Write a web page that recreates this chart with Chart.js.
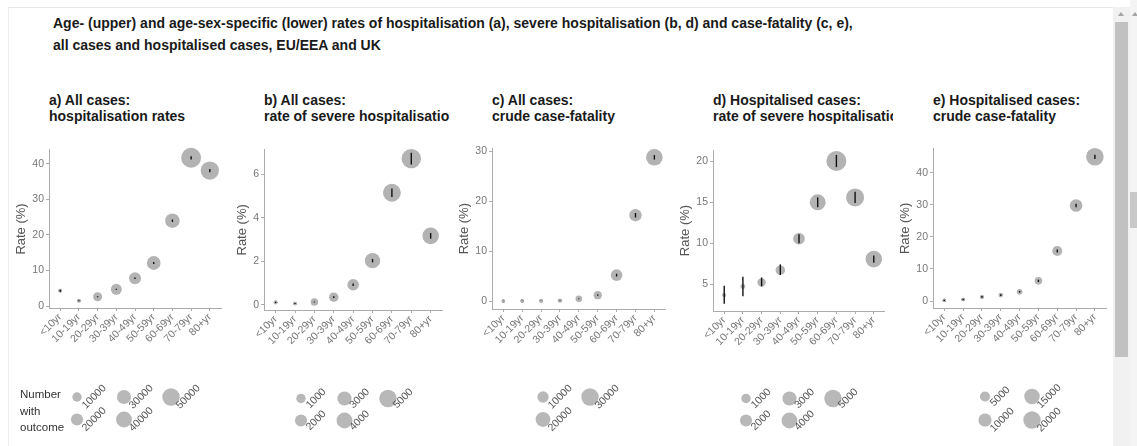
<!DOCTYPE html>
<html>
<head>
<meta charset="utf-8">
<script src="https://cdn.jsdelivr.net/npm/chart.js@4.4.1/dist/chart.umd.min.js"></script>
<style>
    body { margin: 0; background: #fff; font-family: "Liberation Sans", Arial, sans-serif; }
    #page { position: relative; width: 1137px; height: 446px; overflow: hidden; background: #fff; }
    .frame { position: absolute; left: 8px; top: 7px; width: 1105px; height: 439px; border-top: 1px solid #e6e6e6; border-left: 1px solid #ededed; }
    .main-title { position: absolute; left: 53px; top: 12px; font-size: 14px; font-weight: bold; line-height: 22px; color: #1a1a1a; white-space: nowrap; }
    .panel-title { position: absolute; top: 92px; font-size: 14px; font-weight: bold; line-height: 16px; color: #1a1a1a; white-space: nowrap; overflow: hidden; }
    .size-title { position: absolute; left: 20px; top: 386px; font-size: 11.5px; line-height: 16.5px; color: #333; }
    canvas { position: absolute; }
    .sb { position: absolute; }
</style>
</head>
<body>
<div id="page">
    <div class="frame"></div>
    <div class="main-title">Age- (upper) and age-sex-specific (lower) rates of hospitalisation (a), severe hospitalisation (b, d) and case-fatality (c, e),<br>all cases and hospitalised cases, EU/EEA and UK</div>

    <div class="panel-title" style="left:49px; width:175px;">a) All cases:<br>hospitalisation rates</div>
    <div class="panel-title" style="left:264px; width:186px;">b) All cases:<br>rate of severe hospitalisation</div>
    <div class="panel-title" style="left:492px; width:200px;">c) All cases:<br>crude case-fatality</div>
    <div class="panel-title" style="left:713px; width:180px;">d) Hospitalised cases:<br>rate of severe hospitalisation</div>
    <div class="panel-title" style="left:933px; width:180px;">e) Hospitalised cases:<br>crude case-fatality</div>

    <canvas id="chartA"></canvas>
    <canvas id="chartB"></canvas>
    <canvas id="chartC"></canvas>
    <canvas id="chartD"></canvas>
    <canvas id="chartE"></canvas>

    <div class="size-title">Number<br>with<br>outcome</div>

    <!-- scrollbars -->
    <div class="sb" style="left:1113px; top:7px; width:17px; height:439px; background:#f1f1f1;"></div>
    <div class="sb" style="left:1115px; top:22px; width:13px; height:335px; background:#c1c1c1;"></div>
    <div class="sb" style="left:1118px; top:12px; width:0; height:0; border-left:3px solid transparent; border-right:3px solid transparent; border-bottom:4px solid #a3a3a3;"></div>
    <div class="sb" style="left:1130px; top:0; width:7px; height:446px; background:#f4f4f4;"></div>
    <div class="sb" style="left:1130px; top:192px; width:7px; height:36px; background:#c8c8c8;"></div>
    <div class="sb" style="left:1132px; top:12px; width:0; height:0; border-left:3px solid transparent; border-right:3px solid transparent; border-bottom:4px solid #a3a3a3;"></div>
</div>

<script>
// Age groups (x categories)
const ageGroups = ['<10yr', '10-19yr', '20-29yr', '30-39yr', '40-49yr', '50-59yr', '60-69yr', '70-79yr', '80+yr'];

// a) All cases: hospitalisation rates (%)
const hospRate  = [4.3, 1.5, 2.6, 4.7, 7.8, 12.1, 24.0, 41.7, 38.1];
const hospLow   = [4.0, 1.35, 2.45, 4.55, 7.6, 11.85, 23.65, 41.25, 37.65];
const hospHigh  = [4.6, 1.65, 2.75, 4.85, 8.0, 12.35, 24.35, 42.15, 38.55];
const hospCount = [150, 150, 8700, 15400, 19500, 28000, 32000, 69000, 57000];

// b) All cases: rate of severe hospitalisation (%)
const sevRate  = [0.11, 0.06, 0.13, 0.35, 0.92, 2.03, 5.15, 6.72, 3.17];
const sevLow   = [0.08, 0.04, 0.11, 0.31, 0.86, 1.95, 4.95, 6.45, 3.04];
const sevHigh  = [0.14, 0.08, 0.15, 0.39, 0.98, 2.11, 5.35, 6.99, 3.30];
const sevCount = [35, 25, 510, 990, 1780, 3700, 5400, 6500, 4450];

// c) All cases: crude case-fatality (%)
const cfrRate  = [0.02, 0.03, 0.05, 0.1, 0.45, 1.19, 5.2, 17.2, 28.8];
const cfrLow   = [0.0, 0.0, 0.01, 0.05, 0.36, 1.06, 4.92, 16.75, 28.35];
const cfrHigh  = [0.05, 0.06, 0.09, 0.15, 0.54, 1.32, 5.48, 17.65, 29.25];
const cfrCount = [50, 50, 145, 280, 1900, 4200, 10700, 12800, 26800];

// d) Hospitalised cases: rate of severe hospitalisation (%)
const hospSevRate  = [3.65, 4.7, 5.2, 6.7, 10.55, 15.0, 20.05, 15.6, 8.05];
const hospSevLow   = [2.6, 3.5, 4.7, 6.1, 10.0, 14.4, 19.3, 14.9, 7.6];
const hospSevHigh  = [4.8, 5.9, 5.8, 7.4, 11.1, 15.6, 20.8, 16.3, 8.5];
const hospSevCount = [25, 95, 700, 990, 1780, 4080, 6970, 5420, 4460];

// e) Hospitalised cases: crude case-fatality (%)
const hospCfrRate  = [0.2, 0.5, 1.3, 1.85, 2.9, 6.3, 15.6, 29.8, 45.0];
const hospCfrLow   = [0.0, 0.25, 1.05, 1.6, 2.65, 5.95, 15.15, 29.25, 44.35];
const hospCfrHigh  = [0.4, 0.75, 1.55, 2.1, 3.15, 6.65, 16.05, 30.35, 45.65];
const hospCfrCount = [35, 35, 100, 250, 650, 2040, 4730, 8890, 20560];

// y tick labels
const ticksA = [0, 10, 20, 30, 40];
const ticksB = [0, 2, 4, 6];
const ticksC = [0, 10, 20, 30];
const ticksD = [5, 10, 15, 20];
const ticksE = [0, 10, 20, 30, 40];

// size legend breaks ("Number with outcome")
const legendA = [10000, 20000, 30000, 40000, 50000];
const legendB = [1000, 2000, 3000, 4000, 5000];
const legendC = [10000, 20000, 30000];
const legendD = [1000, 2000, 3000, 4000, 5000];
const legendE = [5000, 10000, 15000, 20000];

const FONT = '"Liberation Sans", Arial, sans-serif';
Chart.defaults.font.family = FONT;

const CANVAS_TOP = 140;
const CANVAS_H = 306;
const X_AXIS_H = 40;

// bubble radius from count, relative to the largest legend break
function bubbleRadius(n, ref) {
    return 1.5 + 7.2 * Math.sqrt(n / ref);
}

function errorBars(low, high) {
    return {
        id: 'errorBars',
        afterDatasetDraw(chart, args) {
            if (args.index !== 0) return;
            const { ctx, scales: { x, y } } = chart;
            ctx.save();
            ctx.strokeStyle = '#111';
            ctx.lineWidth = 1.4;
            low.forEach((lo, i) => {
                const px = x.getPixelForValue(i);
                ctx.beginPath();
                ctx.moveTo(px, y.getPixelForValue(lo));
                ctx.lineTo(px, y.getPixelForValue(high[i]));
                ctx.stroke();
            });
            ctx.restore();
        }
    };
}

function sizeLegend(p, ref) {
    return {
        id: 'sizeLegend',
        afterDraw(chart) {
            const ctx = chart.ctx;
            ctx.save();
            ctx.font = '10.5px ' + FONT;
            p.legend.forEach((v, k) => {
                const cx = p.legendCols[Math.floor(k / 2)] - p.left;
                const cy = p.legendRows[k % 2] - CANVAS_TOP;
                ctx.fillStyle = '#b8b8b8';
                ctx.beginPath();
                ctx.arc(cx, cy, bubbleRadius(v, ref), 0, Math.PI * 2);
                ctx.fill();
                const label = String(v);
                const w = ctx.measureText(label).width;
                ctx.save();
                ctx.translate(cx + 4 + (w + 8) * 0.354, cy);
                ctx.rotate(-Math.PI / 4);
                ctx.fillStyle = '#555';
                ctx.textAlign = 'center';
                ctx.textBaseline = 'middle';
                ctx.fillText(label, 0, 0);
                ctx.restore();
            });
            ctx.restore();
        }
    };
}

const panels = [
    { canvas: 'chartA', rate: hospRate, low: hospLow, high: hospHigh, count: hospCount, ticks: ticksA, legend: legendA,
      yMin: -0.56, yMax: 43.9, left: 14, axisX: 49, axisR: 223, top: 148, bottom: 308,
      legendCols: [77, 124, 171], legendRows: [397, 419.5] },
    { canvas: 'chartB', rate: sevRate, low: sevLow, high: sevHigh, count: sevCount, ticks: ticksB, legend: legendB,
      yMin: -0.24, yMax: 7.13, left: 235, axisX: 264, axisR: 444, top: 149, bottom: 310,
      legendCols: [301, 344.5, 388], legendRows: [398.5, 420.5] },
    { canvas: 'chartC', rate: cfrRate, low: cfrLow, high: cfrHigh, count: cfrCount, ticks: ticksC, legend: legendC,
      yMin: -1.58, yMax: 30.6, left: 457, axisX: 492, axisR: 666, top: 147, bottom: 309,
      legendCols: [543, 590], legendRows: [397, 419.5] },
    { canvas: 'chartD', rate: hospSevRate, low: hospSevLow, high: hospSevHigh, count: hospSevCount, ticks: ticksD, legend: legendD,
      yMin: 1.7, yMax: 21.4, left: 678, axisX: 713, axisR: 887, top: 148, bottom: 311,
      legendCols: [746, 789.5, 833], legendRows: [398.5, 420.5] },
    { canvas: 'chartE', rate: hospCfrRate, low: hospCfrLow, high: hospCfrHigh, count: hospCfrCount, ticks: ticksE, legend: legendE,
      yMin: -2.17, yMax: 47.5, left: 898, axisX: 933, axisR: 1107, top: 148, bottom: 308,
      legendCols: [985, 1032], legendRows: [396.5, 420] }
];

function makePanel(p) {
    const el = document.getElementById(p.canvas);
    const width = p.axisR - p.left + 8;
    el.style.left = p.left + 'px';
    el.style.top = CANVAS_TOP + 'px';
    el.style.width = width + 'px';
    el.style.height = CANVAS_H + 'px';
    el.width = width;
    el.height = CANVAS_H;

    const ref = Math.max(...p.legend);
    const points = p.rate.map((v, i) => ({ x: i, y: v }));
    const axisColor = '#ababab';

    new Chart(el, {
        type: 'scatter',
        data: {
            datasets: [{
                data: points,
                backgroundColor: '#b3b3b3',
                borderWidth: 0,
                pointRadius: ctx => bubbleRadius(p.count[ctx.dataIndex], ref),
                clip: false
            }, {
                data: points,
                backgroundColor: '#111',
                borderWidth: 0,
                pointRadius: 1.6,
                clip: false
            }]
        },
        options: {
            responsive: false,
            animation: false,
            events: [],
            layout: {
                padding: {
                    left: 0,
                    right: 8,
                    top: p.top - CANVAS_TOP,
                    bottom: CANVAS_H - (p.bottom - CANVAS_TOP) - X_AXIS_H
                }
            },
            plugins: {
                legend: { display: false },
                tooltip: { enabled: false }
            },
            scales: {
                x: {
                    type: 'linear',
                    min: -0.6,
                    max: 8.6,
                    afterBuildTicks: s => { s.ticks = ageGroups.map((g, i) => ({ value: i })); },
                    afterFit: s => { s.height = X_AXIS_H; },
                    ticks: {
                        callback: v => ageGroups[v],
                        minRotation: 45,
                        maxRotation: 45,
                        autoSkip: false,
                        padding: 0,
                        color: '#777',
                        font: { size: 10.5 }
                    },
                    grid: { drawOnChartArea: false, tickLength: 3, color: axisColor },
                    border: { color: axisColor }
                },
                y: {
                    min: p.yMin,
                    max: p.yMax,
                    afterBuildTicks: s => { s.ticks = p.ticks.map(v => ({ value: v })); },
                    afterFit: s => { s.width = p.axisX - p.left; },
                    ticks: {
                        padding: 2,
                        color: '#777',
                        font: { size: 10.5 }
                    },
                    grid: { drawOnChartArea: false, tickLength: 3, color: axisColor },
                    border: { color: axisColor },
                    title: {
                        display: true,
                        text: 'Rate (%)',
                        color: '#555',
                        padding: 0,
                        font: { size: 13 }
                    }
                }
            }
        },
        plugins: [errorBars(p.low, p.high), sizeLegend(p, ref)]
    });
}

panels.forEach(makePanel);
</script>
</body>
</html>
